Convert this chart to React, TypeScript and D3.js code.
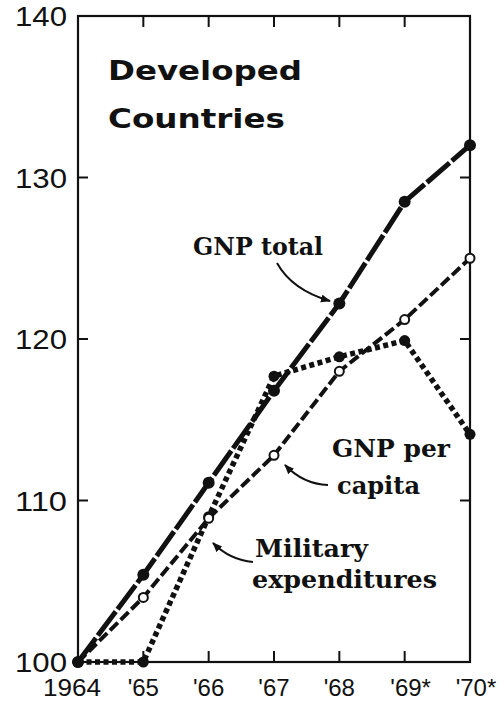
import React from "react";
import * as d3 from "d3";

const years = [1964, 1965, 1966, 1967, 1968, 1969, 1970];
const yearLabels = ["1964", "'65", "'66", "'67", "'68", "'69*", "'70*"];
const gnpTotal = [100, 105.4, 111.1, 116.8, 122.2, 128.5, 132.0];
const gnpPerCapita = [100, 104.0, 108.9, 112.8, 118.0, 121.2, 125.0];
const military = [100, 100, 109.0, 117.7, 118.9, 119.9, 114.1];
const yTicks = [100, 110, 120, 130, 140];

const W = 504, H = 706;
const L = 78, R = 470, T = 16, B = 662;

export default function App() {
  const x = d3.scaleLinear().domain([1964, 1970]).range([L, R]);
  const y = d3.scaleLinear().domain([100, 140]).range([B, T]);
  const line = d3.line<number>().x((_, i) => x(years[i])).y((d) => y(d));

  const serif = "'DejaVu Serif', serif";
  const sans = "'Liberation Sans', Arial, sans-serif";

  return (
    <svg width={W} height={H} style={{ position: "absolute", left: 0, top: 0, background: "#fff" }}>
      <defs>
        <marker id="ah" viewBox="0 0 10 10" refX="9" refY="5" markerWidth="10" markerHeight="10" orient="auto-start-reverse" markerUnits="userSpaceOnUse">
          <path d="M0,1 L10,5 L0,9 Z" fill="#111" />
        </marker>
      </defs>
      <rect x={L} y={T} width={R - L} height={B - T} fill="none" stroke="#111" strokeWidth={2.2} />
      {yTicks.filter((t) => t > 100 && t < 140).map((t) => (
        <g key={t}>
          <line x1={L} x2={L + 10} y1={y(t)} y2={y(t)} stroke="#111" strokeWidth={2} />
          <line x1={R} x2={R - 10} y1={y(t)} y2={y(t)} stroke="#111" strokeWidth={2} />
        </g>
      ))}
      {years.slice(1, 6).map((yr) => (
        <g key={yr}>
          <line x1={x(yr)} x2={x(yr)} y1={T} y2={T + 11} stroke="#111" strokeWidth={2} />
          <line x1={x(yr)} x2={x(yr)} y1={B} y2={B - 11} stroke="#111" strokeWidth={2} />
        </g>
      ))}
      {yTicks.map((t) => (
        <text key={t} x={15} y={y(t) + 10} fontFamily={sans} fontSize={27} textLength={52} lengthAdjust="spacingAndGlyphs" fill="#111">
          {t}
        </text>
      ))}
      {yearLabels.map((lab, i) => {
        const star = lab.endsWith("*");
        const cx = i === 0 ? 72 : x(years[i]) + (star ? 6 : 0);
        return (
          <text key={lab} x={cx} y={696} textAnchor="middle" fontFamily={sans} fontSize={24} fill="#111"
            textLength={i === 0 ? 58 : undefined} lengthAdjust="spacingAndGlyphs">
            {lab}
          </text>
        );
      })}
      <text x={108} y={80} fontFamily="'DejaVu Sans', sans-serif" fontWeight="bold" fontSize={26} textLength={194} lengthAdjust="spacingAndGlyphs" fill="#111">Developed</text>
      <text x={108} y={128} fontFamily="'DejaVu Sans', sans-serif" fontWeight="bold" fontSize={26} textLength={177} lengthAdjust="spacingAndGlyphs" fill="#111">Countries</text>

      <path d={line(military) || ""} fill="none" stroke="#111" strokeWidth={5.5} strokeDasharray="5,3.5" />
      <path d={line(gnpPerCapita) || ""} fill="none" stroke="#111" strokeWidth={4} strokeDasharray="11,4" />
      <path d={line(gnpTotal) || ""} fill="none" stroke="#111" strokeWidth={5} strokeDasharray="30,3" />
      {military.map((v, i) => (
        <circle key={"m" + i} cx={x(years[i])} cy={y(v)} r={5.5} fill="#111" />
      ))}
      {gnpPerCapita.map((v, i) => (
        <circle key={"p" + i} cx={x(years[i])} cy={y(v)} r={4.5} fill="#fff" stroke="#111" strokeWidth={2} />
      ))}
      {gnpTotal.map((v, i) => (
        <circle key={"t" + i} cx={x(years[i])} cy={y(v)} r={6} fill="#111" />
      ))}

      <text x={193} y={255} fontFamily={serif} fontWeight="bold" fontSize={24} textLength={130} lengthAdjust="spacingAndGlyphs" fill="#111">GNP total</text>
      <path d="M277,263 Q292,290 330,301" fill="none" stroke="#111" strokeWidth={2} markerEnd="url(#ah)" />
      <text x={332} y={457} fontFamily={serif} fontWeight="bold" fontSize={24} textLength={118} lengthAdjust="spacingAndGlyphs" fill="#111">GNP per</text>
      <text x={337} y={494} fontFamily={serif} fontWeight="bold" fontSize={24} textLength={83} lengthAdjust="spacingAndGlyphs" fill="#111">capita</text>
      <path d="M328,485 Q303,484 285,465" fill="none" stroke="#111" strokeWidth={2} markerEnd="url(#ah)" />
      <text x={255} y={557} fontFamily={serif} fontWeight="bold" fontSize={24} textLength={113} lengthAdjust="spacingAndGlyphs" fill="#111">Military</text>
      <text x={252} y={588} fontFamily={serif} fontWeight="bold" fontSize={24} textLength={185} lengthAdjust="spacingAndGlyphs" fill="#111">expenditures</text>
      <path d="M253,562 Q230,560 213,543" fill="none" stroke="#111" strokeWidth={2} markerEnd="url(#ah)" />
    </svg>
  );
}
